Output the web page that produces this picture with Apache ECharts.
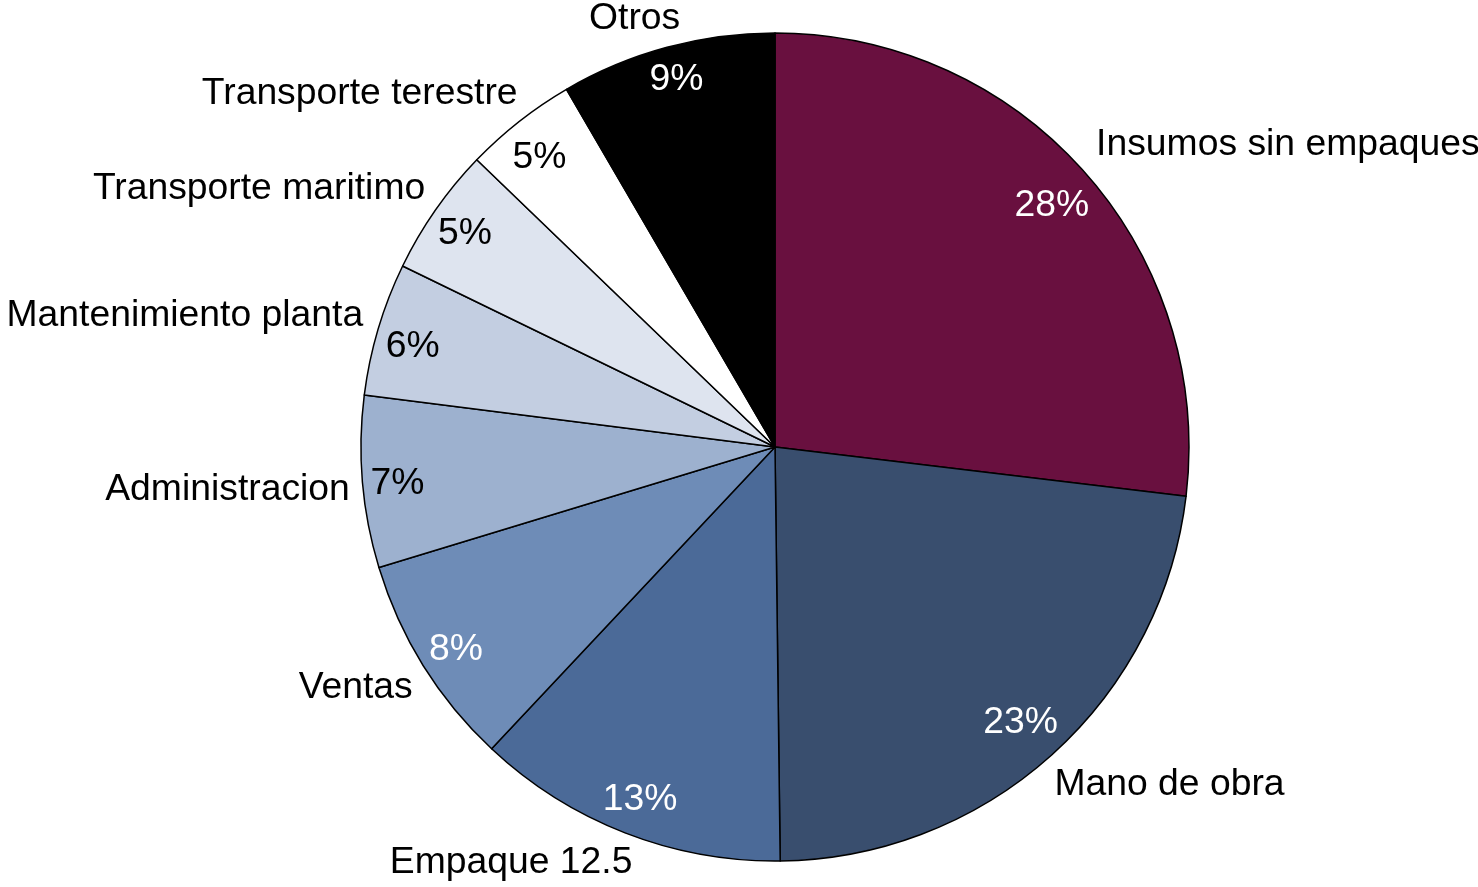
<!DOCTYPE html>
<html>
<head>
<meta charset="utf-8">
<script src="https://cdn.jsdelivr.net/npm/echarts@6/dist/echarts.min.js"></script>
<style>
html,body{margin:0;padding:0;background:#fff;}
#chart{width:1478px;height:887px;}
</style>
</head>
<body>
<div id="chart"></div>
<script>
// ---- data ----
const categories = ['Insumos sin empaques','Mano de obra','Empaque 12.5','Ventas','Administracion','Mantenimiento planta','Transporte maritimo','Transporte terestre','Otros'];
const shares = [26.9, 22.9, 12.2, 8.3, 6.7, 5.2, 5.0, 4.4, 8.4];
const percentLabels = ['28%','23%','13%','8%','7%','6%','5%','5%','9%'];

// ---- styles ----
const sliceColors = ['#69103F','#394E6E','#4B6A98','#6E8CB7','#9DB1CF','#C3CEE1','#DEE4EF','#FFFFFF','#000000'];
const pctColors = ['#fff','#fff','#fff','#fff','#000','#000','#000','#000','#fff'];
// [radial length, horizontal length] of the (hidden) label guide per slice
const labelGuides = [[42,-20],[40,-24],[32,-19],[42,-25],[94,-81],[47,-30],[37,-20],[35,-20],[30,-21]];
// small nudges of the inside percent labels (label box fitted inside the rim)
const pctNudge = [[-6,10],[-7,-5],[2,0],[2,3],[-1,5],[0,7],[0,3],[-2,8],[0,-2]];

const FONT = 'Liberation Sans, Arial, sans-serif';
const chart = echarts.init(document.getElementById('chart'), null, {renderer:'canvas'});

const nameData = categories.map((c,i)=>({
  name: c, value: shares[i],
  itemStyle: {color: sliceColors[i]},
  labelLine: {show:false, length: labelGuides[i][0], length2: labelGuides[i][1]}
}));
const pctData = categories.map((c,i)=>({
  name: c, value: shares[i],
  label: {color: pctColors[i]}
}));

chart.setOption({
  animation: false,
  backgroundColor: '#fff',
  series: [
    {
      type: 'pie',
      center: [775, 447],
      radius: 414,
      startAngle: 90,
      clockwise: true,
      avoidLabelOverlap: false,
      silent: true,
      itemStyle: {borderColor:'#000', borderWidth:1.5},
      label: {
        show: true, position: 'outside', formatter: '{b}',
        fontSize: 37.3, fontFamily: FONT, color: '#000',
        distanceToLabelLine: 0
      },
      labelLine: {show:false},
      emphasis: {disabled:true},
      data: nameData
    },
    {
      type: 'pie',
      center: [775, 447],
      radius: [336, 414],
      startAngle: 90,
      clockwise: true,
      avoidLabelOverlap: false,
      silent: true,
      z: 3,
      itemStyle: {color:'rgba(0,0,0,0)', borderWidth:0},
      label: {
        show: true, position: 'inside',
        formatter: p => percentLabels[p.dataIndex],
        fontSize: 37.3, fontFamily: FONT
      },
      labelLayout: p => ({dx: pctNudge[p.dataIndex][0], dy: pctNudge[p.dataIndex][1]}),
      labelLine: {show:false},
      emphasis: {disabled:true},
      data: pctData
    }
  ]
});
</script>
</body>
</html>
